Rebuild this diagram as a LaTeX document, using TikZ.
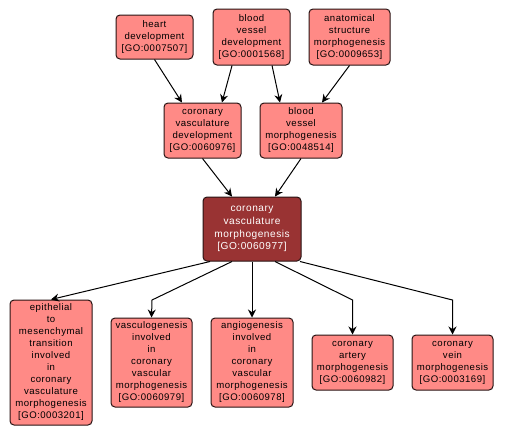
\documentclass[tikz,border=0pt]{standalone}
\usepackage{fontspec}
\setmainfont[LetterSpace=5]{Liberation Sans}
\usetikzlibrary{arrows.meta}
\definecolor{gofill}{RGB}{255,138,134}
\definecolor{gocenter}{RGB}{153,51,51}
\definecolor{goline}{RGB}{40,20,20}
\tikzset{
  gobox/.style={draw=goline, line width=0.75pt, fill=gofill, rounded corners=3pt,
    inner sep=0pt, align=center, font=\fontsize{7.2}{9}\selectfont, text=black},
  gocen/.style={gobox, fill=gocenter, text=white, font=\fontsize{7.6}{9.6}\selectfont},
  goarrow/.style={line width=0.75pt, -{Stealth[length=6pt,width=6pt,inset=2pt]}},
}
\begin{document}
\begin{tikzpicture}[x=0.75pt,y=-0.75pt]
\useasboundingbox (0,0) rectangle (506,436);
\fill[white] (0,0) rectangle (506,436);
\node[gobox, minimum width=57.75pt, minimum height=33pt] (heart) at (154.5,37) {heart\\development\\{[GO:0007507]}};
\node[gobox, minimum width=57.75pt, minimum height=42pt] (bvd) at (251.5,37) {blood\\vessel\\development\\{[GO:0001568]}};
\node[gobox, minimum width=60.75pt, minimum height=42pt] (asm) at (349.5,37) {anatomical\\structure\\morphogenesis\\{[GO:0009653]}};
\node[gobox, minimum width=57.75pt, minimum height=41.25pt] (cvd) at (202.5,130.5) {coronary\\vasculature\\development\\{[GO:0060976]}};
\node[gobox, minimum width=61.5pt, minimum height=41.25pt] (bvm) at (301,130.5) {blood\\vessel\\morphogenesis\\{[GO:0048514]}};
\node[gocen, minimum width=73.5pt, minimum height=48pt] (cen) at (252,229) {coronary\\vasculature\\morphogenesis\\{[GO:0060977]}};
\node[gobox, minimum width=61.5pt, minimum height=93.75pt] (epi) at (51,362.5) {epithelial\\to\\mesenchymal\\transition\\involved\\in\\coronary\\vasculature\\morphogenesis\\{[GO:0003201]}};
\node[gobox, minimum width=60.75pt, minimum height=66.75pt] (vasc) at (151.5,362.5) {vasculogenesis\\involved\\in\\coronary\\vascular\\morphogenesis\\{[GO:0060979]}};
\node[gobox, minimum width=61.5pt, minimum height=66.75pt] (angio) at (252,362.5) {angiogenesis\\involved\\in\\coronary\\vascular\\morphogenesis\\{[GO:0060978]}};
\node[gobox, minimum width=60.75pt, minimum height=41.25pt] (art) at (352.5,362.5) {coronary\\artery\\morphogenesis\\{[GO:0060982]}};
\node[gobox, minimum width=60.75pt, minimum height=41.25pt] (vein) at (452.5,362.5) {coronary\\vein\\morphogenesis\\{[GO:0003169]}};
\coordinate (bv) at (152,300);
\coordinate (ba) at (352.5,300);
\coordinate (bn) at (452.5,300);
\draw[goarrow] (heart.south) -- ([xshift=-15.4pt]cvd.north);
\draw[goarrow] ([xshift=-14.6pt]bvd.south) -- ([xshift=14.6pt]cvd.north);
\draw[goarrow] ([xshift=15.4pt]bvd.south) -- ([xshift=-15.75pt]bvm.north);
\draw[goarrow] (asm.south) -- ([xshift=15.75pt]bvm.north);
\draw[goarrow] (cvd.south) -- ([xshift=-15pt]cen.north);
\draw[goarrow] (bvm.south) -- ([xshift=17.25pt]cen.north);
\draw[goarrow] ([xshift=-31.5pt]cen.south) -- (epi.north);
\draw[goarrow] ([xshift=-15pt]cen.south) -- (bv) -- (vasc.north);
\draw[goarrow] (cen.south) -- (angio.north);
\draw[goarrow] ([xshift=17.25pt]cen.south) -- (ba) -- (art.north);
\draw[goarrow] ([xshift=36pt]cen.south) -- (bn) -- (vein.north);
\end{tikzpicture}
\end{document}
